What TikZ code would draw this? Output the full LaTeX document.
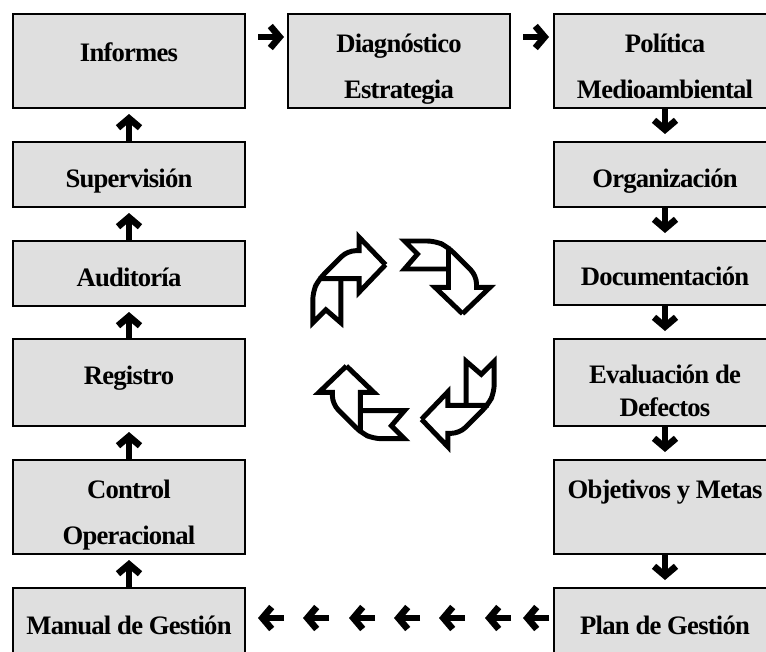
\documentclass[tikz,border=0pt]{standalone}
\usepackage{fontspec}
\setmainfont[LetterSpace=-3]{Liberation Serif}
\usetikzlibrary{positioning,arrows.meta}
\definecolor{boxgray}{HTML}{DFDFDF}
\newcommand{\topstrut}[1]{\rule{0pt}{#1}}
\newcommand{\botstrut}{\rule[-7.5pt]{0pt}{7.5pt}}
\tikzset{
  stage/.style={rectangle, draw, line width=1.5pt, fill=boxgray, outer sep=0pt, inner sep=0pt,
    align=center, font=\fontsize{20}{24.75}\selectfont\bfseries, minimum width=166.5pt},
  flow/.style={line width=4.8pt, -{Straight Barb[length=7pt,width=16.5pt,line width=5pt]}},
  ring/.style={line width=3.7pt, miter limit=10}
}
\begin{document}
\begin{tikzpicture}[x=0.75pt, y=-0.75pt]
    \useasboundingbox (0,0) rectangle (766,651);

    % left column
    \node [stage, anchor=north west, minimum width=174pt, minimum height=70.5pt, text height=14pt, text depth=13pt] (informes) at (13,14) {Informes};
    \node [stage, below=25.5pt of informes, minimum width=174pt, minimum height=48.75pt, text height=18.75pt, text depth=0pt] (supervision) {Supervisión};
    \node [stage, below=25.5pt of supervision, minimum width=174pt, minimum height=48.75pt, text height=18.75pt, text depth=0pt] (auditoria) {Auditoría};
    \node [stage, below=24.75pt of auditoria, minimum width=174pt, minimum height=65.25pt, text height=15pt, text depth=12.75pt] (registro) {Registro};
    \node [stage, below=25.5pt of registro, minimum width=174pt, minimum height=70.5pt] (control) {\topstrut{28.5pt}Control\\[9.75pt]Operacional\botstrut};
    \node [stage, below=25.5pt of control, minimum width=174pt, minimum height=52.5pt, text height=18pt, text depth=1pt] (manual) {Manual de Gestión};

    % top row
    \node [stage, right=32.25pt of informes, minimum height=70.5pt] (diagnostico) {\topstrut{28.5pt}Diagnóstico\\[9.75pt]Estrategia\botstrut};
    \node [stage, right=33pt of diagnostico, minimum height=70.5pt] (politica) {\topstrut{28.5pt}Política\\[9.75pt]Medioambiental\botstrut};

    % right column
    \node [stage, below=25.5pt of politica, minimum height=48.75pt, text height=18.75pt, text depth=0pt] (organizacion) {Organización};
    \node [stage, below=25.5pt of organizacion, minimum height=48pt, text height=18.75pt, text depth=0pt] (documentacion) {Documentación};
    \node [stage, below=25.5pt of documentacion, minimum height=65.25pt] (evaluacion) {\topstrut{33pt}Evaluación de\\Defectos\botstrut};
    \node [stage, below=25.5pt of evaluacion, minimum height=70.5pt, text height=13.5pt, text depth=27pt] (objetivos) {Objetivos y Metas};
    \node [stage, below=25.5pt of objetivos, minimum height=52.5pt, text height=18pt, text depth=1pt] (plan) {Plan de Gestión};

    % connectors
    \draw [flow, shorten <=9.75pt, shorten >=3pt] ([yshift=18pt]informes.east) -- ([yshift=18pt]diagnostico.west);
    \draw [flow, shorten <=9.75pt, shorten >=3.75pt] ([yshift=18pt]diagnostico.east) -- ([yshift=18pt]politica.west);
    \foreach \from/\to in {manual/control, control/registro, registro/auditoria, auditoria/supervision, supervision/informes}
        \draw [flow, xshift=1.2pt, shorten >=4.5pt] (\from.north) -- (\to.south);
    \foreach \from/\to in {politica/organizacion, organizacion/documentacion, documentacion/evaluacion, evaluacion/objetivos, objetivos/plan}
        \draw [flow, xshift=1.5pt, shorten >=6pt] (\from.south) -- (\to.north);

    % bottom row, tips of the arrows
    \foreach \n/\x in {1/258, 2/303, 3/349, 4/394, 5/439, 6/485, 7/523}
        \coordinate (tip\n) at (\x,618);
    \foreach \n in {1,...,7}
        \draw [flow] ([xshift=19.5pt]tip\n) -- (tip\n);

    % circular arrows in the middle
    \foreach \a/\ox/\oy in {0/399.5/327.7, 270/399.5/327.7, 180/407.5/356.3, 90/409.4/352} {
        \begin{scope}[shift={(\ox,\oy)}, rotate=\a]
            \draw [ring] (-14,-63) -- (-40.4,-90.5) -- (-40.4,-77) [rounded corners=6pt] -- (-52,-77) -- (-81,-48) -- (-86.7,-36) [sharp corners] -- (-86.7,-5) -- (-73.7,-18) -- (-58.7,-5) -- (-58.7,-49);
            \draw [ring] (-81,-49) -- (-40.4,-49) -- (-40.4,-35.5) -- (-14,-63);
        \end{scope}
    }
\end{tikzpicture}
\end{document}
